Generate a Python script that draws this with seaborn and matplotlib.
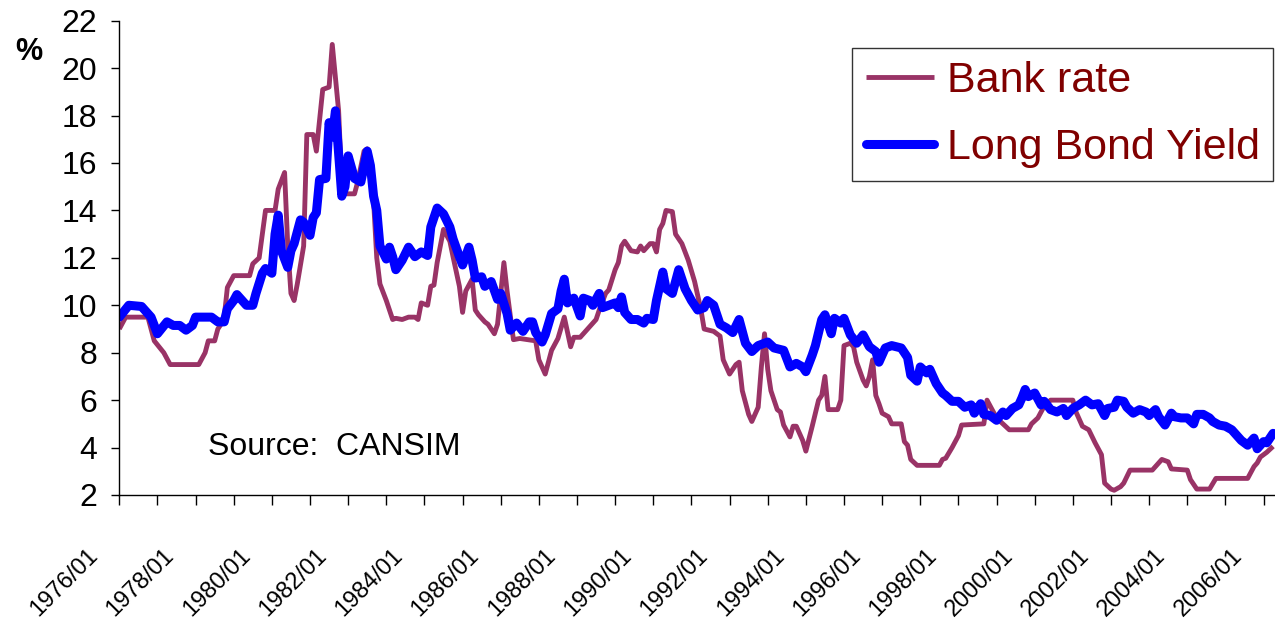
import matplotlib
matplotlib.use("Agg")
import matplotlib.pyplot as plt
import pandas as pd
import seaborn as sns

# Month offsets are counted from 1976/01 (0 = January 1976).
bank_months = [0, 2, 9, 11, 14, 16, 25, 27, 28, 30, 31, 32, 33, 34, 36, 41, 42, 44, 45, 46,
               49, 50, 52, 53, 54, 55, 56, 58, 59, 61, 62, 64, 66, 67, 69, 70, 71, 74, 75, 77,
               78, 79, 80, 81, 82, 84, 86, 87, 89, 91, 93, 94, 95, 97, 98, 99, 100, 101, 102, 104,
               105, 107, 108, 109, 111, 112, 113, 115, 116, 118, 119, 121, 122, 124, 126, 131, 132, 134, 136, 138,
               140, 142, 143, 145, 148, 150, 151, 153, 154, 156, 157, 158, 159, 161, 163, 164, 165, 167, 168, 169,
               170, 171, 172, 174, 175, 177, 179, 181, 183, 184, 187, 189, 190, 192, 194, 195, 196, 198, 199, 201,
               202, 203, 204, 205, 207, 208, 209, 211, 212, 213, 215, 216, 218, 220, 221, 222, 223, 226, 227, 228,
               230, 231, 232, 234, 235, 236, 237, 238, 239, 240, 242, 243, 246, 247, 248, 249, 251, 258, 259, 260,
               262, 264, 265, 272, 273, 274, 275, 276, 278, 280, 286, 287, 289, 290, 291, 293, 300, 301, 303, 305,
               307, 309, 310, 312, 313, 315, 316, 318, 325, 327, 328, 330, 331, 336, 337, 339, 343, 345, 355, 357,
               358, 359, 361, 363]
bank_rate = [9.0, 9.5, 9.5, 8.5, 8.0, 7.5, 7.5, 8.0, 8.5, 8.5, 9.0, 9.2, 9.5, 10.75, 11.25, 11.25, 11.75, 12.0, 13.0, 14.0,
             14.0, 14.9, 15.6, 12.5, 10.5, 10.2, 10.9, 12.5, 17.2, 17.2, 16.5, 19.1, 19.2, 21.0, 18.2, 15.1, 14.7, 14.7, 15.2, 16.5,
             16.6, 16.0, 14.4, 12.0, 10.9, 10.2, 9.4, 9.45, 9.4, 9.5, 9.5, 9.4, 10.1, 10.0, 10.8, 10.85, 11.8, 12.5, 13.2, 12.7,
             12.05, 10.8, 9.7, 10.6, 11.1, 9.8, 9.6, 9.3, 9.2, 8.8, 9.2, 11.8, 10.6, 8.55, 8.6, 8.5, 7.7, 7.1, 8.1, 8.6,
             9.5, 8.25, 8.65, 8.65, 9.1, 9.4, 9.8, 10.5, 10.65, 11.5, 11.8, 12.5, 12.7, 12.3, 12.25, 12.5, 12.3, 12.6, 12.6, 12.25,
             13.2, 13.45, 14.0, 13.95, 13.0, 12.6, 11.9, 11.0, 9.8, 9.0, 8.9, 8.7, 7.7, 7.1, 7.5, 7.6, 6.4, 5.4, 5.1, 5.7,
             7.4, 8.8, 7.3, 6.4, 5.6, 5.5, 4.95, 4.45, 4.9, 4.9, 4.3, 3.85, 4.9, 6.0, 6.2, 7.0, 5.6, 5.6, 6.0, 8.3,
             8.4, 8.25, 7.6, 6.85, 6.6, 7.0, 7.7, 6.2, 5.85, 5.45, 5.3, 5.0, 5.0, 4.25, 4.1, 3.5, 3.25, 3.25, 3.5, 3.55,
             4.0, 4.5, 4.95, 5.0, 6.0, 5.75, 5.5, 5.25, 5.0, 4.75, 4.75, 5.0, 5.25, 5.5, 5.75, 6.0, 6.0, 5.5, 4.9, 4.75,
             4.2, 3.7, 2.5, 2.25, 2.2, 2.35, 2.5, 3.05, 3.05, 3.35, 3.5, 3.4, 3.1, 3.05, 2.65, 2.25, 2.25, 2.7, 2.7, 3.2,
             3.35, 3.6, 3.8, 4.05]

bond_months = [0, 3, 7, 9, 10, 12, 15, 17, 19, 21, 23, 24, 29, 31, 33, 34, 36, 37, 40, 42,
               43, 45, 46, 48, 49, 50, 51, 53, 54, 55, 57, 58, 60, 61, 62, 63, 65, 66, 67, 68,
               70, 71, 72, 74, 76, 78, 79, 80, 81, 82, 84, 85, 86, 87, 89, 91, 93, 95, 97, 98,
               100, 102, 104, 105, 107, 108, 110, 111, 112, 114, 115, 117, 119, 120, 122, 123, 125, 127, 129, 130,
               131, 133, 134, 136, 138, 139, 140, 141, 143, 145, 146, 148, 149, 151, 152, 154, 156, 157, 158, 159,
               161, 163, 165, 166, 168, 169, 171, 172, 174, 176, 178, 180, 182, 184, 185, 187, 189, 191, 193, 195,
               197, 199, 201, 204, 206, 209, 211, 213, 215, 216, 218, 219, 221, 222, 224, 225, 227, 228, 230, 232,
               234, 236, 238, 239, 241, 243, 246, 248, 249, 251, 252, 254, 255, 257, 259, 260, 262, 264, 266, 268,
               269, 271, 272, 274, 276, 278, 279, 281, 283, 284, 285, 286, 288, 290, 291, 293, 295, 297, 298, 300,
               302, 304, 306, 308, 310, 311, 313, 314, 316, 317, 319, 321, 323, 324, 326, 327, 329, 331, 332, 334,
               336, 338, 339, 341, 343, 344, 346, 348, 350, 352, 353, 355, 357, 358, 360, 361, 363]
bond_yield = [9.5, 10.0, 9.95, 9.65, 9.5, 8.8, 9.3, 9.15, 9.15, 8.95, 9.15, 9.5, 9.5, 9.3, 9.3, 9.85, 10.2, 10.45, 10.0, 10.0,
              10.5, 11.35, 11.55, 11.35, 13.0, 13.8, 12.3, 11.6, 12.3, 12.6, 13.6, 13.5, 12.95, 13.7, 13.9, 15.3, 15.35, 17.7, 17.1, 18.2,
              14.6, 15.0, 16.3, 15.35, 15.2, 16.5, 15.9, 14.6, 14.0, 12.5, 11.95, 12.45, 12.05, 11.5, 11.9, 12.45, 12.05, 12.25, 12.1, 13.3,
              14.1, 13.85, 13.3, 12.8, 12.05, 11.7, 12.45, 11.9, 11.15, 11.2, 10.8, 11.0, 10.25, 10.5, 9.65, 8.95, 9.25, 8.9, 9.3, 9.3,
              8.85, 8.45, 8.75, 9.65, 9.85, 10.6, 11.1, 10.1, 10.3, 9.55, 10.3, 10.2, 10.0, 10.5, 9.9, 10.0, 10.1, 9.9, 10.35, 9.7,
              9.4, 9.4, 9.25, 9.45, 9.4, 10.2, 11.4, 10.7, 10.5, 11.5, 10.7, 10.2, 9.8, 9.9, 10.2, 10.0, 9.2, 9.05, 8.85, 9.4,
              8.4, 8.05, 8.3, 8.45, 8.2, 8.1, 7.4, 7.55, 7.4, 7.2, 7.9, 8.3, 9.4, 9.6, 8.8, 9.45, 9.25, 9.45, 8.75, 8.4,
              8.75, 8.25, 8.05, 7.6, 8.2, 8.3, 8.2, 7.8, 7.05, 6.8, 7.4, 7.15, 7.3, 6.7, 6.3, 6.2, 5.95, 5.95, 5.7, 5.8,
              5.45, 5.85, 5.4, 5.35, 5.15, 5.5, 5.35, 5.65, 5.8, 6.1, 6.45, 6.15, 6.3, 5.8, 5.95, 5.6, 5.5, 5.65, 5.35, 5.65,
              5.8, 6.0, 5.8, 5.85, 5.35, 5.65, 5.7, 6.0, 5.95, 5.7, 5.45, 5.6, 5.5, 5.35, 5.6, 5.3, 4.95, 5.45, 5.3, 5.25,
              5.25, 5.0, 5.4, 5.4, 5.25, 5.1, 4.95, 4.9, 4.75, 4.45, 4.3, 4.1, 4.4, 3.95, 4.25, 4.2, 4.6]

tick_labels = ["1976/01", "1978/01", "1980/01", "1982/01", "1984/01", "1986/01", "1988/01", "1990/01",
               "1992/01", "1994/01", "1996/01", "1998/01", "2000/01", "2002/01", "2004/01", "2006/01"]
y_ticks = [2, 4, 6, 8, 10, 12, 14, 16, 18, 20, 22]

BANK_COLOR = "#993366"
BOND_COLOR = "#0000FF"
TEXT_RED = "#800000"

sns.set_style("white")
plt.rcParams["font.family"] = ["Liberation Sans", "DejaVu Sans"]

bank_df = pd.DataFrame({"month": bank_months, "rate": bank_rate})
bond_df = pd.DataFrame({"month": bond_months, "rate": bond_yield})

W, H = 1275, 622
fig = plt.figure(figsize=(W / 100, H / 100), dpi=100)
left, right, top, bottom = 119.3, 1275.0, 20.7, 495.0
ax = fig.add_axes([left / W, 1 - bottom / H, (right - left) / W, (bottom - top) / H])

sns.lineplot(data=bank_df, x="month", y="rate", ax=ax, color=BANK_COLOR, linewidth=3.5,
             estimator=None, sort=False, label="Bank rate",
             solid_joinstyle="round", solid_capstyle="butt")
sns.lineplot(data=bond_df, x="month", y="rate", ax=ax, color=BOND_COLOR, linewidth=6.5,
             estimator=None, sort=False, label="Long Bond Yield",
             solid_joinstyle="round", solid_capstyle="round")

ax.set_xlim(0, 363.6)
ax.set_ylim(2, 22)
ax.set_xlabel("")
ax.set_ylabel("")

for side in ("top", "right"):
    ax.spines[side].set_visible(False)
for side in ("left", "bottom"):
    ax.spines[side].set_color("black")
    ax.spines[side].set_linewidth(1.0)

# Yearly tick marks; the dates are written every second year
major_pos = [24 * i for i in range(len(tick_labels))]
minor_pos = [12 + 24 * i for i in range(len(tick_labels) - 1)]
ax.set_xticks(major_pos)
ax.set_xticks(minor_pos, minor=True)
ax.set_xticklabels([""] * len(major_pos))
ax.tick_params(axis="x", which="both", direction="out", length=7.5, width=1.0,
               color="black", bottom=True)
for pos, text in zip(major_pos, tick_labels):
    ax.annotate(text, xy=(pos, 0), xycoords=("data", "axes fraction"),
                xytext=(-23.5, -35.5), textcoords="offset points",
                rotation=45, rotation_mode="anchor", ha="right", va="top",
                fontsize=17, color="black", annotation_clip=False)

ax.set_yticks(y_ticks)
ax.set_yticklabels([str(v) for v in y_ticks], fontsize=23, color="black")
ax.tick_params(axis="y", direction="out", length=6, width=1.0, color="black",
               left=True, pad=10)

leg = ax.legend(loc="upper right", bbox_to_anchor=(1273 / W, 1 - 48 / H),
                bbox_transform=fig.transFigure, frameon=True, fancybox=False,
                shadow=False, fontsize=31, labelcolor=TEXT_RED,
                handlelength=1.58, handletextpad=0.3, borderpad=0.31,
                labelspacing=0.62, borderaxespad=0)
leg.get_frame().set_edgecolor("black")
leg.get_frame().set_linewidth(1.0)

ax.text(0.0768, 0.101, "Source:  CANSIM", transform=ax.transAxes,
        fontsize=23, color="black", ha="left", va="center")
fig.text(29 / W, 1 - 52 / H, "%", fontsize=22, fontweight="bold",
         ha="center", va="center", color="black")

fig.savefig("out.png", dpi=100)
